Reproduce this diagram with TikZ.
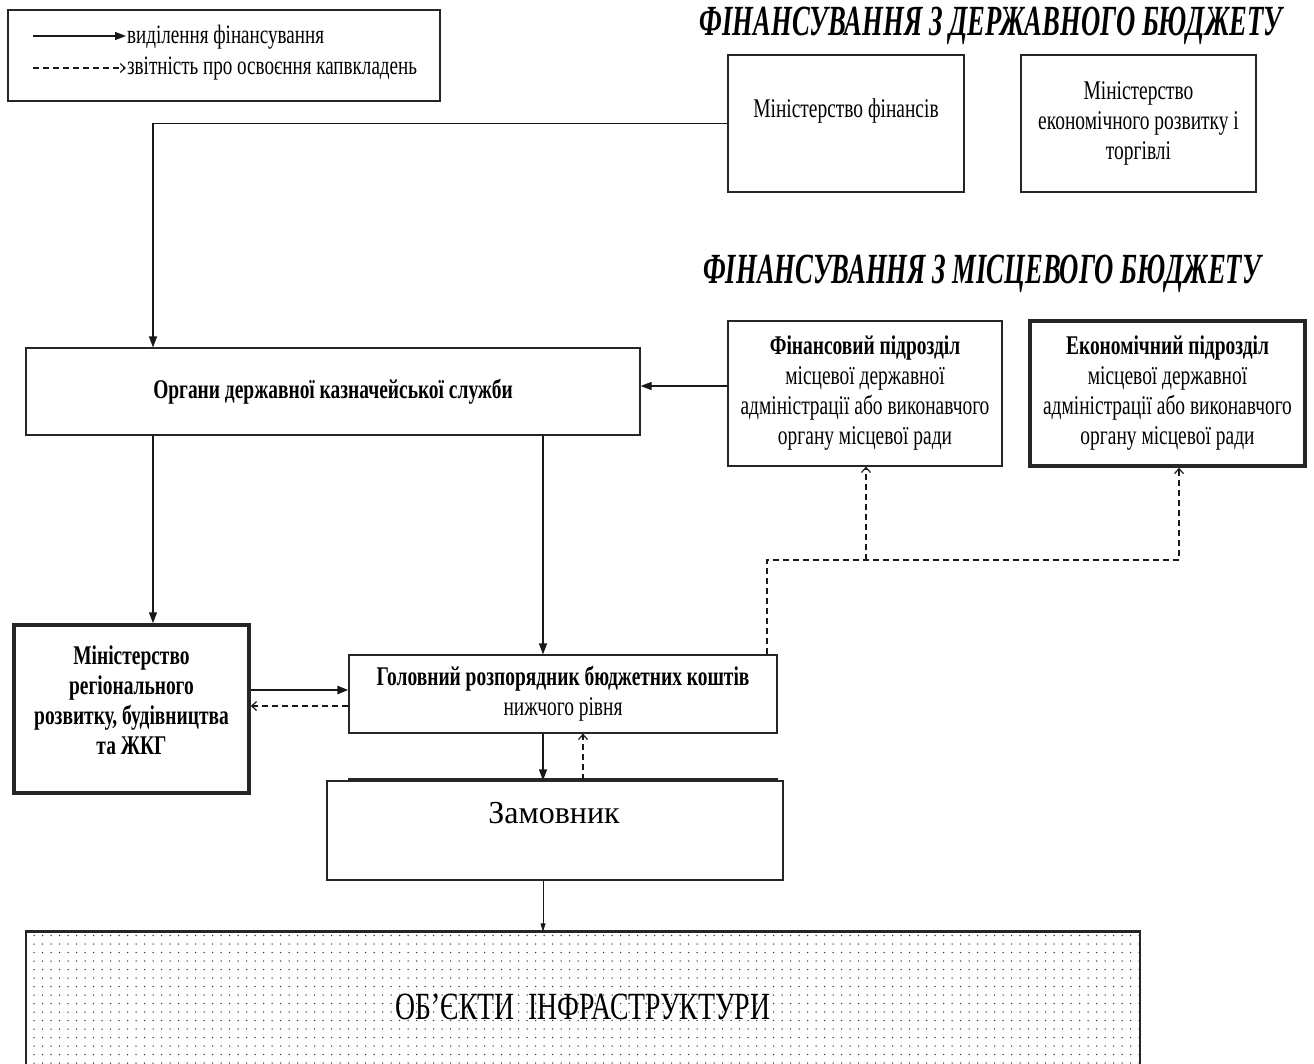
\documentclass[tikz,border=0pt]{standalone}
\usepackage{fontspec}
\setmainfont{Liberation Serif}
\newfontfamily\cf[FakeStretch=0.72]{Liberation Serif}
\newfontfamily\tf[FakeStretch=0.62]{Liberation Serif}
\usetikzlibrary{arrows.meta,patterns.meta,calc}
\tikzset{
  box/.style={draw=black!85, line width=1.2pt, inner sep=0pt, align=center, font=\cf\fontsize{27}{30}\selectfont},
  thickbox/.style={box, line width=3.5pt},
  txt/.style={inner sep=0pt, align=center, font=\cf\fontsize{27}{30}\selectfont},
  fin/.style={draw=black!90, line width=1.2pt, -{Triangle[length=11pt,width=8pt]}},
  rep/.style={draw=black!90, line width=1.2pt, dash pattern=on 6pt off 4pt, -{Straight Barb[length=5pt,width=9pt]}},
  ttl/.style={inner sep=0pt, font=\tf\bfseries\itshape\fontsize{43}{47}\selectfont},
}
\begin{document}
\begin{tikzpicture}[x=1pt,y=-1pt]
\useasboundingbox (0,0) rectangle (1314,1063);
\fill[white] (0,0) rectangle (1314,1063);

% legend
\node[box, minimum width=432pt, minimum height=91pt] (leg) at (224,55.5) {};
\coordinate (l1a) at (33,36); \coordinate (l1b) at (126,36);
\coordinate (l2a) at (33,68); \coordinate (l2b) at (126,68);
\draw[fin] (l1a) -- (l1b);
\draw[rep] (l2a) -- (l2b);
\node[txt, anchor=west, font=\cf\fontsize{26.5}{29}\selectfont] (lt1) at (127,37) {виділення фінансування};
\node[txt, anchor=west, font=\cf\fontsize{26.5}{29}\selectfont] (lt2) at (127,69) {звітність про освоєння капвкладень};

% titles
\node[ttl] (t1) at (991,26) {ФІНАНСУВАННЯ З ДЕРЖАВНОГО БЮДЖЕТУ};
\node[ttl] (t2) at (982,274) {ФІНАНСУВАННЯ З МІСЦЕВОГО БЮДЖЕТУ};

% boxes
\node[box, minimum width=236pt, minimum height=137pt] (minfin) at (846,123.5) {};
\node[txt] (minfint) at (846,111) {Міністерство фінансів};
\node[box, minimum width=235pt, minimum height=137pt] (minek) at (1138.5,123.5) {Міністерство\\економічного розвитку і\\торгівлі};
\node[box, minimum width=614pt, minimum height=87pt] (organy) at (333,391.5) {\bfseries Органи державної казначейської служби};
\node[box, minimum width=274pt, minimum height=145pt] (finpid) at (865,393.5) {\textbf{Фінансовий підрозділ}\\місцевої державної\\адміністрації або виконавчого\\органу місцевої ради};
\node[thickbox, minimum width=275pt, minimum height=145pt] (ekpid) at (1167.5,393.5) {\textbf{Економічний підрозділ}\\місцевої державної\\адміністрації або виконавчого\\органу місцевої ради};
\node[thickbox, minimum width=235pt, minimum height=168pt] (minreg) at (131.5,709) {};
\node[txt, font=\cf\bfseries\fontsize{27}{30}\selectfont] (minregt) at (131.5,700) {Міністерство\\регіонального\\розвитку, будівництва\\та ЖКГ};
\node[box, minimum width=428pt, minimum height=78pt] (holov) at (563,694) {\textbf{Головний розпорядник бюджетних коштів}\\нижчого рівня};
\node[box, minimum width=456pt, minimum height=99pt] (zamov) at (555,830.5) {};
\node[txt, font=\fontsize{32}{36}\selectfont] (zamovt) at (554,813) {Замовник};
\node[box, minimum width=1114pt, minimum height=150pt, pattern={Dots[distance=8.5pt, radius=0.75pt]}, pattern color=black!80, font=\cf\fontsize{38.5}{42}\selectfont] (obj) at (583,1007) {ОБ’ЄКТИ\ \ ІНФРАСТРУКТУРИ};
\draw[line width=2.5pt, black!85] (obj.north west) -- (obj.north east);
\draw[line width=1.2pt, black!85] ($(zamov.north -| holov.west)+(0,-1.5)$) -- ($(zamov.north -| holov.east)+(0,-1.5)$);

% helper coordinates
\coordinate (xa) at (153,0);
\coordinate (xb) at (543,0);
\coordinate (xc) at (767,0);
\coordinate (xd) at (866,0);
\coordinate (xe) at (1179,0);
\coordinate (xf) at (583,0);
\coordinate (ya) at (0,386);
\coordinate (yb) at (0,690);
\coordinate (yc) at (0,706);
\coordinate (ym) at (0,560);

% connectors
\draw[fin] (minfin.west) -| (organy.north -| xa);
\draw[fin] (finpid.west |- ya) -- (organy.east |- ya);
\draw[fin] (organy.south -| xa) -- (minreg.north -| xa);
\draw[fin] (organy.south -| xb) -- (holov.north -| xb);
\draw[fin, line width=2.4pt] (minreg.east |- yb) -- (holov.west |- yb);
\draw[rep] (holov.west |- yc) -- (minreg.east |- yc);
\draw[rep] (holov.north -| xc) -- (xc |- ym) -| (ekpid.south -| xe);
\draw[rep] (xd |- ym) -- (finpid.south -| xd);
\draw[fin] (holov.south -| xb) -- (zamov.north -| xb);
\draw[rep] (zamov.north -| xf) -- (holov.south -| xf);
\draw[fin, line width=0.8pt, -{Triangle[length=8pt,width=5pt]}] (zamov.south -| xb) -- (obj.north -| xb);
\end{tikzpicture}
\end{document}
